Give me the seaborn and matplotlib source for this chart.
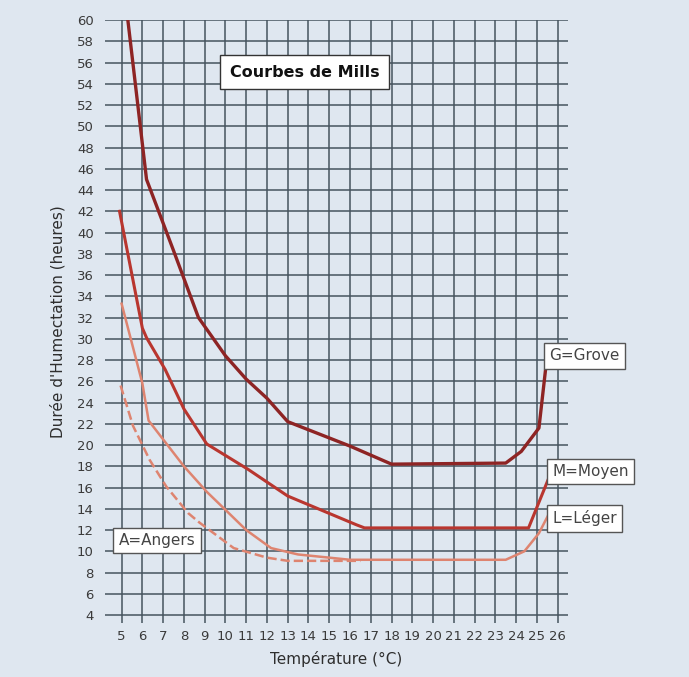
import matplotlib
matplotlib.use("Agg")
import matplotlib.pyplot as plt
import seaborn as sns
import pandas as pd

# Data
g_temp = [5.3, 6.2, 7.5, 8.7, 10, 11, 12, 13, 16, 18, 23.5, 24.25, 25.1, 25.5]
g_hours = [60, 45, 38.3, 32, 28.4, 26.2, 24.4, 22.2, 19.9, 18.2, 18.3, 19.4, 21.6, 28.5]

m_temp = [4.9, 6.0, 6.2, 7.1, 8.0, 9.1, 11.1, 13.0, 16.3, 16.7, 24.6, 25.7]
m_hours = [42, 31, 30.1, 27.1, 23.4, 20.1, 17.7, 15.2, 12.5, 12.2, 12.2, 17.5]

l_temp = [5.0, 6.0, 6.3, 8.0, 9.1, 10.0, 11.0, 12.2, 13.5, 16.0, 23.5, 24.4, 25.1, 25.6]
l_hours = [33.3, 25.8, 22.3, 18.0, 15.6, 13.9, 12.0, 10.3, 9.7, 9.2, 9.2, 10.0, 11.7, 13.6]

a_temp = [4.95, 5.55, 6.35, 7.15, 8.2, 8.75, 10.4, 12.0, 13.0, 16.5]
a_hours = [25.6, 21.8, 18.6, 16.1, 13.6, 12.7, 10.3, 9.4, 9.1, 9.1]

x_ticks = list(range(5, 27))
y_ticks = list(range(4, 61, 2))

title = "Courbes de Mills"
x_label = "Température (°C)"
y_label = "Durée d'Humectation (heures)"

bg = "#dfe7f0"
grid_c = "#46545f"

fig = plt.figure(figsize=(6.89, 6.77), dpi=100, facecolor=bg)
ax = fig.add_axes([105 / 689, 1 - 623 / 677, (568 - 105) / 689, (623 - 20) / 677])
ax.set_facecolor(bg)

series = [
    (g_temp, g_hours, "#8e2424", 2.4, "-"),
    (m_temp, m_hours, "#b9362f", 2.2, "-"),
    (l_temp, l_hours, "#de8470", 1.8, "-"),
    (a_temp, a_hours, "#de8470", 1.8, "--"),
]
for xs, ys, col, lw, ls in series:
    df = pd.DataFrame({"t": xs, "h": ys})
    sns.lineplot(data=df, x="t", y="h", ax=ax, color=col, linewidth=lw,
                 linestyle=ls, sort=False, estimator=None, zorder=3)

ax.set_xlim(4.2, 26.5)
ax.set_ylim(3.25, 60)
ax.set_xticks(x_ticks)
ax.set_yticks(y_ticks)
ax.set_xticklabels([str(v) for v in x_ticks])
ax.set_yticklabels([str(v) for v in y_ticks])
ax.grid(True, color=grid_c, linewidth=1.1, zorder=1)
ax.set_axisbelow(True)
for s in ax.spines.values():
    s.set_visible(False)
ax.tick_params(axis="both", length=0, labelsize=9.5, colors="#3a3a3a")
ax.tick_params(axis="y", pad=8)
ax.tick_params(axis="x", pad=5)
ax.set_xlabel(x_label, fontsize=11, color="#2e2e2e", labelpad=6)
ax.set_ylabel(y_label, fontsize=11, color="#2e2e2e", labelpad=8)

# Title box
ax.text(13.8, 55.1, title, fontsize=11.5, fontweight="bold", color="#111111",
        ha="center", va="center", zorder=5,
        bbox=dict(boxstyle="square,pad=0.6", facecolor="white", edgecolor="#333333", linewidth=1))

box = dict(boxstyle="square,pad=0.35", facecolor="white", edgecolor="#555555", linewidth=1)
ax.text(25.6, 28.4, "G=Grove", fontsize=11, color="#444444", ha="left", va="center",
        zorder=5, bbox=box, clip_on=False)
ax.text(25.75, 17.5, "M=Moyen", fontsize=11, color="#444444", ha="left", va="center",
        zorder=5, bbox=box, clip_on=False)
ax.text(25.75, 13.1, "L=Léger", fontsize=11, color="#444444", ha="left", va="center",
        zorder=5, bbox=box, clip_on=False)
ax.text(4.85, 11.0, "A=Angers", fontsize=11, color="#444444", ha="left", va="center",
        zorder=5, bbox=box)

fig.savefig("out.png", dpi=100, facecolor=bg)
